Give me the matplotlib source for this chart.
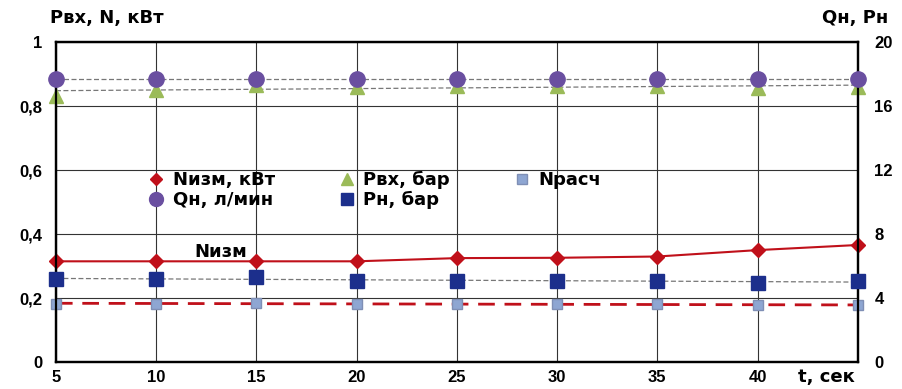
import numpy as np
import matplotlib
matplotlib.use("Agg")
import matplotlib.pyplot as plt
from matplotlib.lines import Line2D
from matplotlib.ticker import FuncFormatter

# data
t = [5, 10, 15, 20, 25, 30, 35, 40, 45]
n_izm = [0.315, 0.315, 0.315, 0.315, 0.325, 0.326, 0.330, 0.350, 0.366]   # кВт, left axis
p_vh = [0.830, 0.850, 0.866, 0.860, 0.862, 0.864, 0.864, 0.856, 0.858]   # бар, left axis
n_rasch = [0.183, 0.183, 0.185, 0.181, 0.181, 0.181, 0.181, 0.178, 0.179]  # left axis
q_n = [17.7, 17.7, 17.7, 17.7, 17.7, 17.7, 17.7, 17.7, 17.7]            # л/мин, right axis
p_n = [5.2, 5.2, 5.3, 5.05, 5.1, 5.1, 5.1, 4.95, 5.05]                  # бар, right axis

left_ticks = [0, 0.2, 0.4, 0.6, 0.8, 1]
right_ticks = [0, 4, 8, 12, 16, 20]
x_ticks = [5, 10, 15, 20, 25, 30, 35, 40]

RED = "#c0101a"
GREEN = "#9bbb59"
PURPLE = "#6a4fa0"
NAVY = "#1c2f8c"
LIGHT = "#8ea6d2"

tick_font = dict(family="Liberation Sans", weight="bold", size=12)
lab_font = dict(family="DejaVu Sans", weight="bold", size=13)


def trend(x, y):
    k, b = np.polyfit(x, y, 1)
    xs = np.array([x[0], x[-1]])
    return xs, k * xs + b


def comma(v, pos):
    s = "%g" % v
    return s.replace(".", ",")


fig = plt.figure(figsize=(9.02, 3.89), dpi=100)
ax = fig.add_axes([0.062, 0.069, 0.889, 0.823])
ax2 = ax.twinx()

ax.set_xlim(5, 45)
ax.set_ylim(0, 1)
ax2.set_ylim(0, 20)

ax.grid(True, color="#333333", lw=0.8)
ax.set_axisbelow(True)

# trend lines
xs, ys = trend(t, p_vh)
ax.plot(xs, ys, ls="--", color="#777777", lw=0.9, dashes=(4, 2))
xs, ys = trend(t, n_rasch)
ax.plot(xs, ys, ls="--", color=RED, lw=2, dashes=(6, 3.5))
xs, ys = trend(t, q_n)
ax2.plot(xs, ys, ls="--", color="#777777", lw=0.9, dashes=(4, 2))
xs, ys = trend(t, p_n)
ax2.plot(xs, ys, ls="--", color="#777777", lw=0.9, dashes=(4, 2))

# series
ax.plot(t, n_izm, color=RED, lw=1.5, marker="D", ms=7, mfc=RED, mec=RED, zorder=5, clip_on=False)
ax.plot(t, p_vh, ls="none", marker="^", ms=10, mfc=GREEN, mec=GREEN, zorder=4, clip_on=False)
ax.plot(t, n_rasch, ls="none", marker="s", ms=7, mfc=LIGHT, mec="#7f8fb5", zorder=6, clip_on=False)
ax2.plot(t, q_n, ls="none", marker="o", ms=11, mfc=PURPLE, mec=PURPLE, zorder=5, clip_on=False)
ax2.plot(t, p_n, ls="none", marker="s", ms=10, mfc=NAVY, mec=NAVY, zorder=5, clip_on=False)

ax.set_xticks(x_ticks)
ax.set_yticks(left_ticks)
ax2.set_yticks(right_ticks)
ax.yaxis.set_major_formatter(FuncFormatter(comma))
ax.tick_params(axis="y", length=0, pad=10)
ax.tick_params(axis="x", length=0, pad=6)
ax2.tick_params(length=0, pad=12)
for lab in ax.get_xticklabels() + ax.get_yticklabels() + ax2.get_yticklabels():
    lab.set_fontproperties(tick_font)

for a in (ax, ax2):
    for s in a.spines.values():
        s.set_linewidth(1.6)
        s.set_color("black")

fig.text(0.055, 0.955, "Pвх, N, кВт", ha="left", va="center", **lab_font)
fig.text(0.985, 0.955, "Qн, Pн", ha="right", va="center", **lab_font)
fig.text(0.948, 0.03, "t, сек", ha="right", va="center", **lab_font)
ax.text(13.2, 0.345, "Nизм", ha="center", va="center", **lab_font)

handles = [
    Line2D([], [], ls="none", marker="D", ms=6, mfc=RED, mec=RED),
    Line2D([], [], ls="none", marker="o", ms=10, mfc=PURPLE, mec=PURPLE),
    Line2D([], [], ls="none", marker="^", ms=8, mfc=GREEN, mec=GREEN),
    Line2D([], [], ls="none", marker="s", ms=8, mfc=NAVY, mec=NAVY),
    Line2D([], [], ls="none", marker="s", ms=7, mfc=LIGHT, mec="#7f8fb5"),
]
labels = ["Nизм, кВт", "Qн, л/мин", "Pвх, бар", "Pн, бар", "Nрасч"]
leg = ax.legend(handles, labels, ncol=3, loc="upper left",
                bbox_to_anchor=(0.105, 0.625), frameon=False,
                prop=dict(family="DejaVu Sans", weight="bold", size=13),
                handlelength=0.8, handletextpad=0.5, columnspacing=3.6,
                labelspacing=0.1, borderpad=0)

fig.savefig("out.png", dpi=100)
